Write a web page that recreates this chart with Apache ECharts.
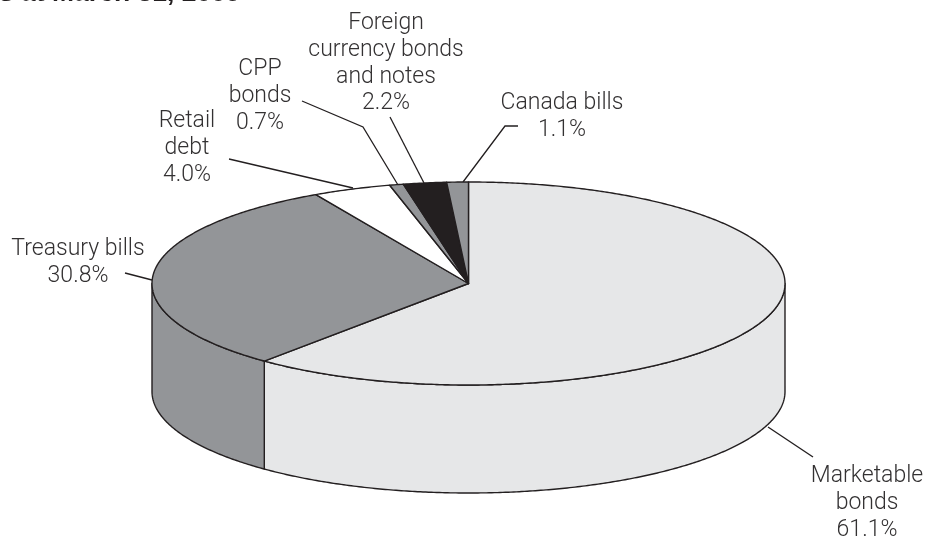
<!DOCTYPE html>
<html><head><meta charset="utf-8">
<style>html,body{margin:0;padding:0;background:#fff}#c{width:929px;height:539px}</style>
<script src="https://cdn.jsdelivr.net/npm/echarts@6/dist/echarts.min.js"></script>
</head><body><div id="c"></div>
<script>
const categories = ['Marketable bonds','Treasury bills','Retail debt','CPP bonds','Foreign currency bonds and notes','Canada bills'];
const values = [61.1,30.8,4.0,0.7,2.2,1.1];
const colors = ['#e6e7e8','#939598','#ffffff','#939598','#231f20','#939598'];
const labelLines = [['Marketable','bonds'],['Treasury bills'],['Retail','debt'],['CPP','bonds'],['Foreign','currency bonds','and notes'],['Canada bills']];
const subtitle = 's at March 31, 2009';

const cx=468.5, cy=283.5, rx=316.5, ry=101.5, depth=108;
const ink='#231f20', textInk='#333132';
const pt=(deg,dy)=>{const t=deg*Math.PI/180;return [cx+rx*Math.sin(t),cy-ry*Math.cos(t)+(dy||0)];};
const arc=(a,b,dy)=>{const out=[],n=Math.max(2,Math.ceil(Math.abs(b-a)*2));for(let i=0;i<=n;i++)out.push(pt(a+(b-a)*i/n,dy));return out;};
const total=values.reduce((s,v)=>s+v,0);
let run=0;
const rows=values.map((v,i)=>{const r=[i,run,v];run+=v;return r;});

function renderItem(params,api){
  const i=api.value(0), a0=api.value(1)/total*360, a1=(api.value(1)+api.value(2))/total*360;
  const children=[];
  const s0=Math.max(a0,90), s1=Math.min(a1,270);
  const style={fill:colors[i],stroke:ink,lineWidth:1.4,lineJoin:'round'};
  if(s1>s0){
    children.push({type:'polygon',shape:{points:arc(s0,s1,0).concat(arc(s1,s0,depth))},style});
  }
  children.push({type:'polygon',shape:{points:[[cx,cy]].concat(arc(a0,a1,0))},style});
  return {type:'group',children};
}

const label=(lines,value,x,y)=>({type:'text',x,y,style:{text:lines.concat([value.toFixed(1)+'%']).join('\n'),
  font:'300 23px Roboto',lineHeight:26.7,fill:textInk,textAlign:'center',textVerticalAlign:'top'}});
const leader=(points)=>({type:'polyline',shape:{points},style:{stroke:ink,lineWidth:1.3,fill:null}});

const chart=echarts.init(document.getElementById('c'),null,{renderer:'canvas'});
chart.setOption({
  animation:false,
  backgroundColor:'#fff',
  series:[{type:'custom',coordinateSystem:'none',data:rows,renderItem,silent:true}],
  graphic:[
    {type:'text',x:-1,y:7,style:{text:subtitle,font:'bold 26.5px "Liberation Sans"',fill:ink,textVerticalAlign:'bottom'}},
    leader([[768,427],[813,457]]),
    leader([[125,273],[152,280]]),
    leader([[229,159],[353,188]]),
    leader([[302,101],[363,127],[398,185]]),
    leader([[390,117],[424,183]]),
    leader([[518,126],[505,126],[463,182]]),
    label(labelLines[0],values[0],867,463),
    label(labelLines[1],values[1],78,236),
    label(labelLines[2],values[2],187,108),
    label(labelLines[3],values[3],260,56),
    label(labelLines[4],values[4],386,10),
    label(labelLines[5],values[5],562,90)
  ]
});
</script></body></html>
